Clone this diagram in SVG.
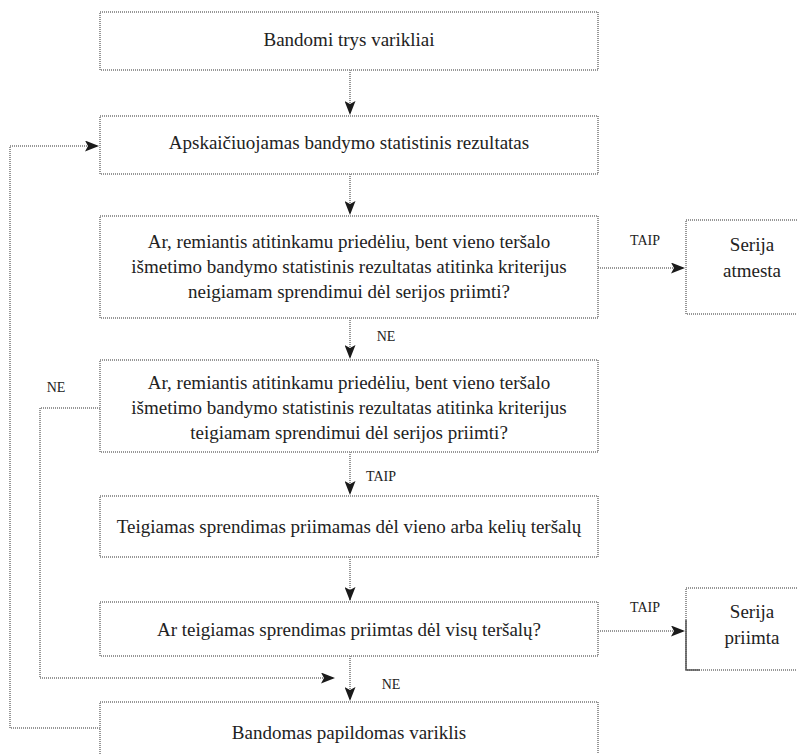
<svg xmlns="http://www.w3.org/2000/svg" width="797" height="754" viewBox="0 0 797 754">
<style>
.box{fill:#fff;stroke:#979797;stroke-width:2;stroke-dasharray:1 1}
.ln{fill:none;stroke:#979797;stroke-width:2;stroke-dasharray:1 1}
.t{font-size:19px;fill:#222;text-anchor:middle}
.l{font-size:14px;fill:#222;text-anchor:middle}
</style>
<defs>
<marker id="ah" viewBox="0 0 14 11" refX="13" refY="5.5" markerWidth="14" markerHeight="11" markerUnits="userSpaceOnUse" orient="auto">
<path d="M0,0 L14,5.5 L0,11 L3,5.5 Z" fill="#1a1a1a"/>
</marker>
</defs>
<rect width="797" height="754" fill="#fff"/>
<g font-family="'Liberation Serif', 'DejaVu Serif', serif">
<g id="connectors">
<line class="ln" x1="350" y1="70" x2="350" y2="114" marker-end="url(#ah)"/>
<line class="ln" x1="350" y1="174" x2="350" y2="214" marker-end="url(#ah)"/>
<line class="ln" x1="598" y1="268" x2="684" y2="268" marker-end="url(#ah)"/>
<text class="l" x="645" y="245">TAIP</text>
<line class="ln" x1="350" y1="318" x2="350" y2="358" marker-end="url(#ah)"/>
<text class="l" x="386" y="341">NE</text>
<polyline class="ln" points="100,408 40,408 40,678 334,678" marker-end="url(#ah)"/>
<text class="l" x="56" y="392">NE</text>
<line class="ln" x1="350" y1="452" x2="350" y2="494" marker-end="url(#ah)"/>
<text class="l" x="381" y="481">TAIP</text>
<line class="ln" x1="350" y1="557" x2="350" y2="600" marker-end="url(#ah)"/>
<line class="ln" x1="598" y1="631" x2="684" y2="631" marker-end="url(#ah)"/>
<text class="l" x="645" y="612">TAIP</text>
<line class="ln" x1="350" y1="656" x2="350" y2="700" marker-end="url(#ah)"/>
<text class="l" x="391" y="689">NE</text>
<polyline class="ln" points="100,728 10,728 10,146 98,146" marker-end="url(#ah)"/>
</g>
<g id="n1"><rect class="box" x="100" y="12" width="498" height="58"/><text class="t" x="349" y="46">Bandomi trys varikliai</text></g>
<g id="n2"><rect class="box" x="100" y="116" width="498" height="58"/><text class="t" x="349" y="149">Apskaičiuojamas bandymo statistinis rezultatas</text></g>
<g id="n3"><rect class="box" x="100" y="216" width="498" height="102"/>
<text class="t" x="349" y="248">Ar, remiantis atitinkamu priedėliu, bent vieno teršalo</text>
<text class="t" x="349" y="273">išmetimo bandymo statistinis rezultatas atitinka kriterijus</text>
<text class="t" x="349" y="298">neigiamam sprendimui dėl serijos priimti?</text></g>
<g id="n4"><rect class="box" x="686" y="220" width="120" height="94"/>
<text class="t" x="752" y="251">Serija</text><text class="t" x="752" y="277">atmesta</text></g>
<g id="n5"><rect class="box" x="100" y="360" width="498" height="92"/>
<text class="t" x="349" y="389">Ar, remiantis atitinkamu priedėliu, bent vieno teršalo</text>
<text class="t" x="349" y="414">išmetimo bandymo statistinis rezultatas atitinka kriterijus</text>
<text class="t" x="349" y="439">teigiamam sprendimui dėl serijos priimti?</text></g>
<g id="n6"><rect class="box" x="100" y="496" width="498" height="61"/><text class="t" x="349" y="533">Teigiamas sprendimas priimamas dėl vieno arba kelių teršalų</text></g>
<g id="n7"><rect class="box" x="100" y="602" width="498" height="54"/><text class="t" x="349" y="636">Ar teigiamas sprendimas priimtas dėl visų teršalų?</text></g>
<g id="n8"><rect class="box" x="686" y="588" width="120" height="82"/>
<polyline points="686,620 686,670 700,670" fill="none" stroke="#555" stroke-width="1.5"/>
<text class="t" x="752" y="618">Serija</text><text class="t" x="752" y="644">priimta</text></g>
<g id="n9"><rect class="box" x="100" y="702" width="498" height="70"/><text class="t" x="349" y="739">Bandomas papildomas variklis</text></g>
</g>
</svg>
